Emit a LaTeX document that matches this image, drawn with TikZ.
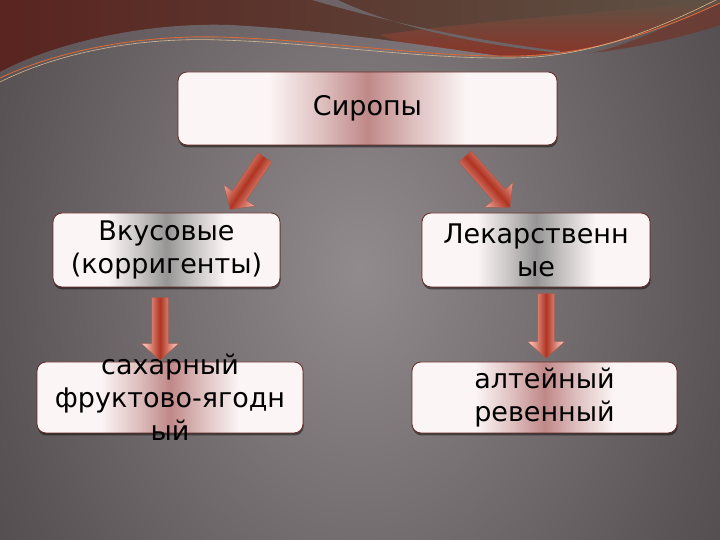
\documentclass[tikz,border=0pt]{standalone}
\usepackage{fontspec}
\setmainfont{DejaVu Sans}
\usetikzlibrary{calc,shadows}
\definecolor{bgin}{RGB}{146,139,141}
\definecolor{bgmid}{RGB}{92,85,87}
\definecolor{bgout}{RGB}{46,40,42}
\definecolor{topbrown}{RGB}{90,36,32}
\definecolor{topolive}{RGB}{94,82,68}
\definecolor{topred}{RGB}{140,52,40}
\definecolor{wavedark}{RGB}{92,84,86}
\definecolor{wavelight}{RGB}{128,120,122}
\definecolor{streakgray}{RGB}{108,100,102}
\definecolor{lowred}{RGB}{110,56,46}
\definecolor{orangeline}{RGB}{214,106,60}
\definecolor{paleline}{RGB}{214,184,146}
\definecolor{boxwhite}{RGB}{252,245,245}
\definecolor{bandpink}{RGB}{192,136,136}
\definecolor{bandgray}{RGB}{150,148,148}
\colorlet{bandpinksoft}{bandpink!50!boxwhite}
\colorlet{bandgraysoft}{bandgray!50!boxwhite}
\definecolor{boxline}{RGB}{100,40,40}
\definecolor{arrowlight}{RGB}{246,186,174}
\definecolor{arrowdark}{RGB}{176,52,34}
\definecolor{arrowline}{RGB}{150,96,88}
\pgfdeclareradialshading{bgglow}{\pgfpoint{0bp}{0bp}}{color(0bp)=(bgin); color(25bp)=(bgmid); color(50bp)=(bgout); color(72bp)=(bgout)}
\pgfdeclarehorizontalshading{pinkband}{100bp}{color(0bp)=(boxwhite); color(37bp)=(boxwhite); color(44bp)=(bandpinksoft); color(50bp)=(bandpink); color(56bp)=(bandpinksoft); color(63bp)=(boxwhite); color(100bp)=(boxwhite)}
\pgfdeclarehorizontalshading{grayband}{100bp}{color(0bp)=(boxwhite); color(37bp)=(boxwhite); color(44bp)=(bandgraysoft); color(50bp)=(bandgray); color(56bp)=(bandgraysoft); color(63bp)=(boxwhite); color(100bp)=(boxwhite)}
\pgfdeclareverticalshading{arrowband}{100bp}{color(0bp)=(arrowlight); color(30bp)=(arrowlight); color(50bp)=(arrowdark); color(70bp)=(arrowlight); color(100bp)=(arrowlight)}
\newcommand\fatarrow[2]{%
  \path let \p1=($(#2)-(#1)$), \n1={atan2(\y1,\x1)}, \p2=($(#2)!17pt!(#1)$) in
    [blockarrow, shading angle=\n1]
    ($(#1)!8.5pt!90:(#2)$) -- ($(\p2)!8.5pt!90:(#2)$) -- ($(\p2)!19pt!90:(#2)$) -- (#2)
    -- ($(\p2)!19pt!-90:(#2)$) -- ($(\p2)!8.5pt!-90:(#2)$) -- ($(#1)!8.5pt!-90:(#2)$) -- cycle;}
\begin{document}
\begin{tikzpicture}[x=1pt, y=1pt,
  level 1/.style={sibling distance=369.5pt, level distance=141.5pt},
  level 2/.style={level distance=147.5pt},
  edge from parent/.style={draw=none},
  catbox/.style={rounded corners=9pt, draw=boxline, line width=0.8pt, align=center,
    inner sep=3pt, font=\fontsize{27}{33}\selectfont,
    drop shadow={shadow xshift=0.6pt, shadow yshift=-2.5pt, opacity=0.45, fill=black}},
  pinkbox/.style={catbox, shade, shading=pinkband},
  graybox/.style={catbox, shade, shading=grayband},
  boxtext/.style={align=center, inner sep=0pt, font=\fontsize{27}{33}\selectfont},
  blockarrow/.style={draw=arrowline, line width=0.5pt, line join=miter,
    shade, shading=arrowband}]
  \useasboundingbox (0,0) rectangle (720,540);
  \begin{scope}
    \clip (0,0) rectangle (720,540);
    \shade[shading=bgglow] (0,-220) rectangle (720,760);
    \shade[left color=topbrown, right color=topolive]
      (0,540) -- (0,462) .. controls (60,490) and (140,505) .. (220,503)
      .. controls (320,500) and (420,484) .. (500,484)
      .. controls (580,482) and (650,505) .. (720,537) -- (720,540) -- cycle;
    \shade[top color=topolive, bottom color=topred]
      (380,505) .. controls (480,520) and (620,528) .. (720,540) -- (720,537)
      .. controls (650,505) and (580,482) .. (500,484)
      .. controls (450,484) and (410,492) .. (380,505) -- cycle;
    \fill[streakgray] (312,540) .. controls (380,520) and (470,500) .. (560,489)
      -- (560,487) .. controls (470,496) and (390,515) .. (338,540) -- cycle;
    \shade[left color=wavedark, right color=wavelight]
      (0,462) .. controls (60,490) and (140,505) .. (220,503)
      .. controls (320,500) and (420,484) .. (500,484)
      .. controls (440,492) and (330,510) .. (230,515)
      .. controls (140,518) and (50,495) .. (0,468) -- cycle;
    \fill[lowred, opacity=0.8] (590,487) .. controls (640,492) and (690,505) .. (720,515)
      -- (720,537) .. controls (660,510) and (620,492) .. (590,487) -- cycle;
    \draw[orangeline, line width=0.9pt] (0,462) .. controls (60,490) and (140,505) .. (220,503)
      .. controls (320,500) and (420,484) .. (500,484)
      .. controls (580,482) and (650,505) .. (720,537);
    \draw[paleline, line width=0.6pt] (0,458) .. controls (60,488) and (140,503) .. (220,500)
      .. controls (320,497) and (420,481) .. (510,482)
      .. controls (590,482) and (660,512) .. (720,542);
  \end{scope}
  \node[pinkbox, minimum width=379pt, minimum height=73pt] (sirop) at (367.5,431.5) {Сиропы}
    child[xshift=-16.25pt] {node[graybox, minimum width=227pt, minimum height=74pt] (vkus) {Вкусовые\\(корригенты)}
      child[xshift=3.5pt] {node[pinkbox, minimum width=266pt, minimum height=71pt,
        label={[boxtext]center:сахарный\\фруктово-ягодн\\ый}] (sakh) {}}
    }
    child[xshift=-16.25pt] {node[graybox, minimum width=228pt, minimum height=74pt] (lek) {Лекарственн\\ые}
      child[xshift=8.5pt] {node[pinkbox, minimum width=265pt, minimum height=71pt] (alt) {алтейный\\ревенный}}
    };
  \coordinate (a1s) at ($(sirop.south)+(-102.5,-12)$);
  \coordinate (a1e) at ($(vkus.north)+(63.5,3)$);
  \coordinate (a2s) at ($(sirop.south)+(97.5,-11)$);
  \coordinate (a2e) at ($(lek.north)+(-26,5)$);
  \coordinate (a3s) at ($(vkus.south)+(-6.5,-10)$);
  \coordinate (a3e) at ($(vkus.south)+(-6.5,-73)$);
  \coordinate (a4s) at ($(lek.south)+(10,-6)$);
  \coordinate (a4e) at ($(lek.south)+(10,-71)$);
  \fatarrow{a1s}{a1e}
  \fatarrow{a2s}{a2e}
  \fatarrow{a3s}{a3e}
  \fatarrow{a4s}{a4e}
\end{tikzpicture}
\end{document}
